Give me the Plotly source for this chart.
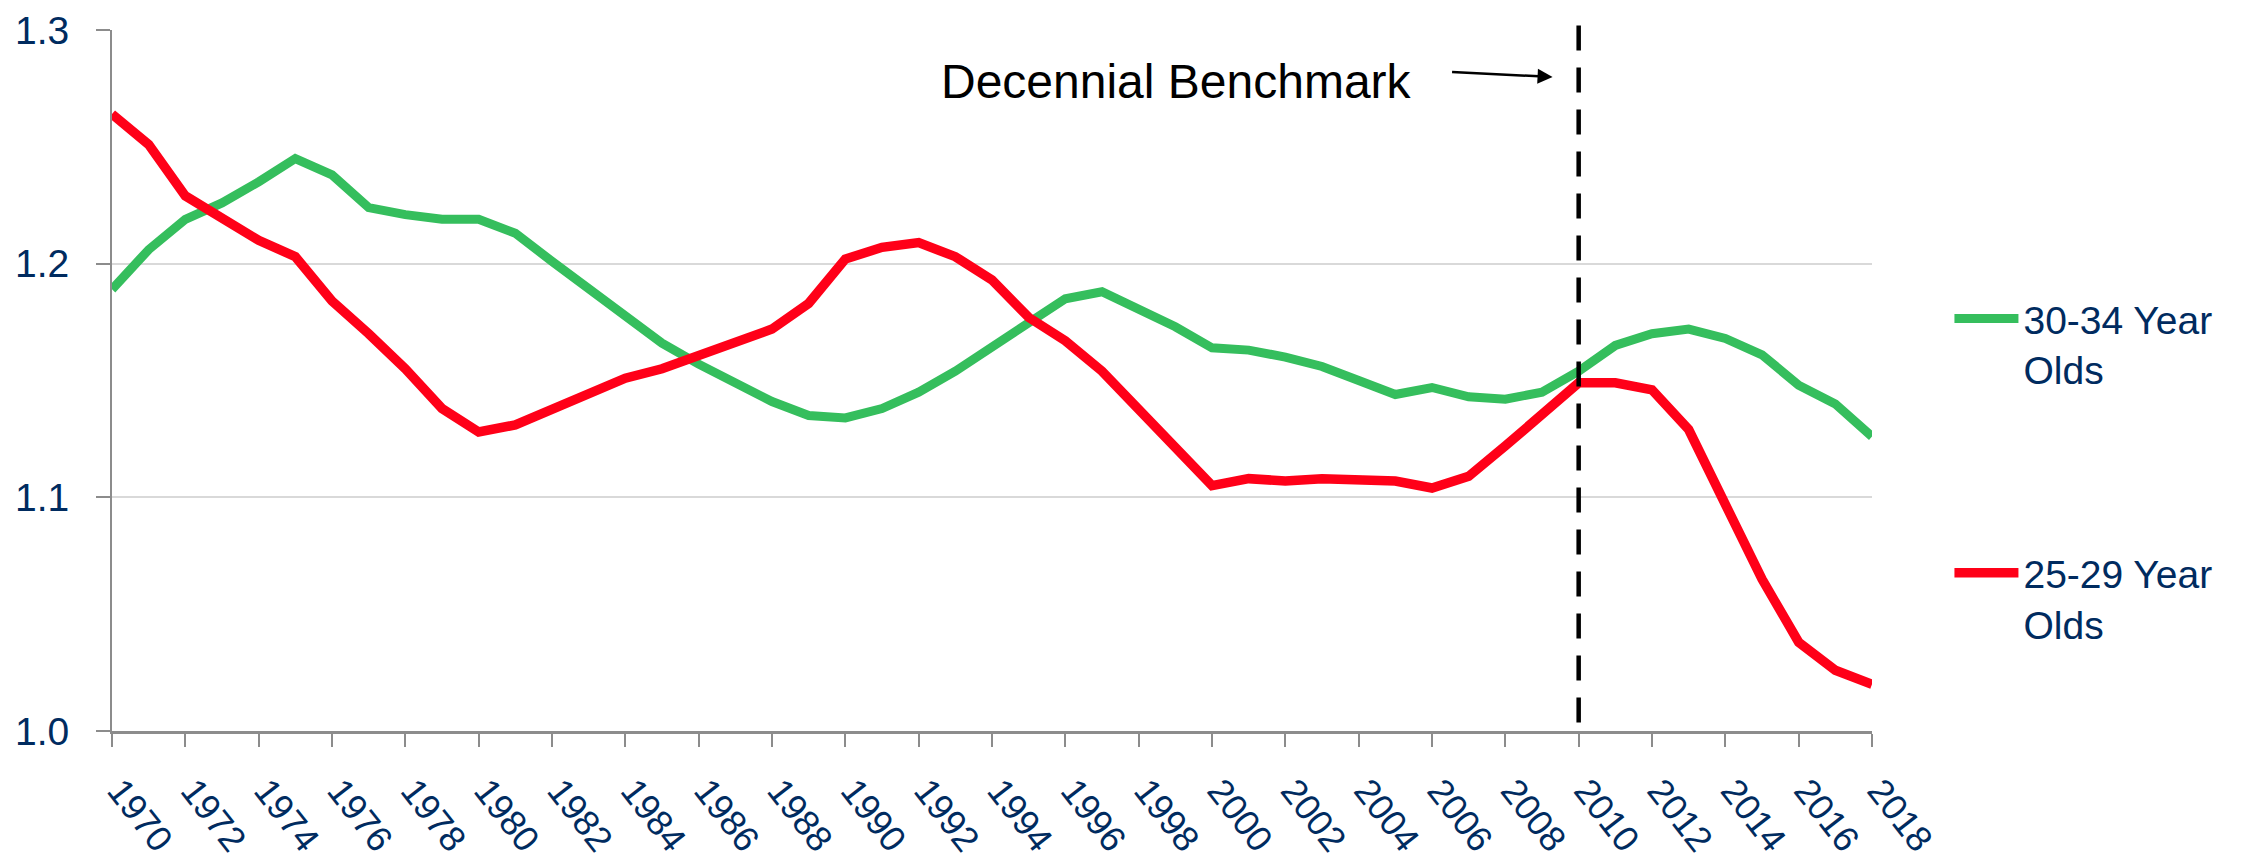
import plotly.graph_objects as go

years = list(range(1970, 2019))
age_30_34 = [1.189, 1.206, 1.219, 1.226, 1.235, 1.245, 1.238, 1.224, 1.221, 1.219,
             1.219, 1.213, 1.201, 1.189, 1.177, 1.166, 1.157, 1.149, 1.141, 1.135,
             1.134, 1.138, 1.145, 1.154, 1.164, 1.174, 1.185, 1.188, 1.181, 1.173,
             1.164, 1.163, 1.160, 1.156, 1.150, 1.144, 1.147, 1.143, 1.142, 1.145,
             1.154, 1.165, 1.170, 1.172, 1.168, 1.161, 1.148, 1.140, 1.126]
age_25_29 = [1.264, 1.251, 1.229, 1.220, 1.210, 1.203, 1.184, 1.170, 1.155, 1.138,
             1.128, 1.131, 1.138, 1.144, 1.151, 1.155, 1.161, 1.166, 1.172, 1.183,
             1.202, 1.207, 1.209, 1.203, 1.193, 1.177, 1.167, 1.154, 1.138, 1.121,
             1.105, 1.108, 1.107, 1.108, 1.107, 1.107, 1.104, 1.109, 1.122, 1.135,
             1.149, 1.149, 1.146, 1.129, 1.097, 1.065, 1.038, 1.026, 1.020]
series_names = ["30-34 Year<br>Olds", "25-29 Year<br>Olds"]
x_ticks = list(range(1970, 2019, 2))
y_ticks = [1.0, 1.1, 1.2, 1.3]
benchmark_year = 2010
benchmark_label = "Decennial Benchmark"

NAVY = "#002B5F"
GREEN = "#35BE5D"
RED = "#FF0018"
AXIS = "#8C8C8C"
FONT = "Liberation Sans, Arial, sans-serif"

fig = go.Figure()
fig.add_trace(go.Scatter(x=years, y=age_30_34, mode="lines", name=series_names[0],
                         line=dict(color=GREEN, width=9), legendgroup="a"))
fig.add_trace(go.Scatter(x=years, y=age_25_29, mode="lines", name=series_names[1],
                         line=dict(color=RED, width=9.5), legendgroup="b"))

fig.add_shape(type="line", xref="x", yref="paper", x0=benchmark_year, x1=benchmark_year,
              y0=0.012, y1=1.007, line=dict(color="black", width=4.5, dash="25px,17px"))

fig.add_annotation(text=benchmark_label, xref="paper", yref="paper", x=0.740, y=0.926,
                   xanchor="right", yanchor="middle", showarrow=False,
                   font=dict(family=FONT, size=48, color="black"))
fig.add_annotation(text="", xref="paper", yref="paper", x=0.8185, y=0.933,
                   ax=-102, ay=-5, showarrow=True, arrowhead=2, arrowsize=1.2,
                   arrowwidth=2.5, arrowcolor="black")

fig.update_layout(
    width=2244, height=859,
    margin=dict(l=112, r=372, t=30, b=128),
    plot_bgcolor="white", paper_bgcolor="white",
    font=dict(family=FONT, size=39, color=NAVY),
    showlegend=True,
    legend=dict(x=1.044, y=0.634, xanchor="left", yanchor="top",
                font=dict(family=FONT, size=39, color=NAVY),
                tracegroupgap=150, valign="top", itemwidth=64,
                bgcolor="rgba(0,0,0,0)"),
)
fig.update_xaxes(range=[1970, 2018], tickvals=x_ticks, tickangle=52,
                 showgrid=False, zeroline=False, automargin=False,
                 ticklabeloverflow="allow",
                 showline=True, linecolor=AXIS, linewidth=3,
                 ticks="outside", ticklen=13, tickwidth=2, tickcolor=AXIS,
                 ticklabelstandoff=8, ticklabelshift=8,
                 tickfont=dict(family=FONT, size=36, color=NAVY))
fig.update_yaxes(range=[1.0, 1.3], tickvals=y_ticks, tickformat=".1f",
                 showgrid=True, gridcolor="#D9D9D9", gridwidth=2, zeroline=False,
                 automargin=False, ticklabeloverflow="allow",
                 showline=True, linecolor=AXIS, linewidth=2,
                 ticks="outside", ticklen=14, tickwidth=2, tickcolor=AXIS,
                 ticklabelstandoff=19,
                 tickfont=dict(family=FONT, size=39, color=NAVY))

fig.write_html("out.html", config={"displayModeBar": False},
               post_script="document.body.style.margin='0';")
